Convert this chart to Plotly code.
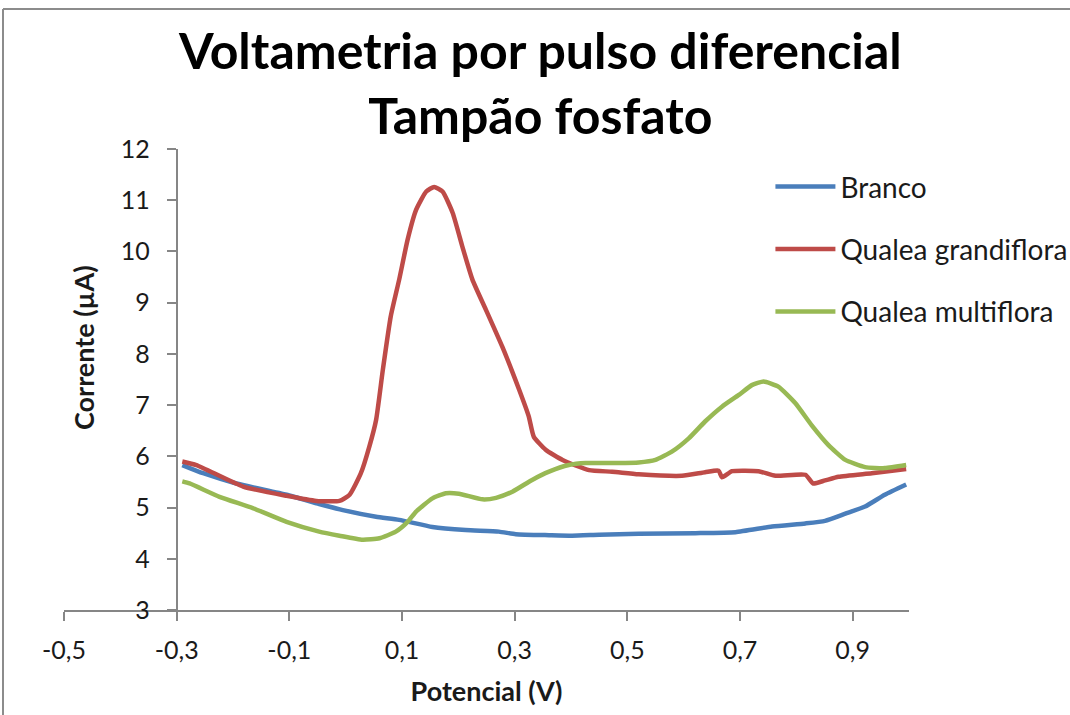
import plotly.graph_objects as go

# ---------------- data ----------------
branco_x = [-0.29, -0.253, -0.194, -0.105, -0.047, -0.005, 0.054, 0.095, 0.154, 0.213,
            0.272, 0.302, 0.361, 0.402, 0.45, 0.52, 0.621, 0.692, 0.757, 0.816,
            0.851, 0.887, 0.922, 0.957, 0.995]
branco_y = [5.83, 5.67, 5.47, 5.25, 5.07, 4.95, 4.82, 4.76, 4.62, 4.56,
            4.53, 4.48, 4.46, 4.45, 4.47, 4.49, 4.50, 4.52, 4.63, 4.69,
            4.74, 4.88, 5.02, 5.25, 5.45]

grandiflora_x = [-0.29, -0.265, -0.182, -0.105, -0.052, -0.011, 0.007, 0.027, 0.042, 0.054,
                 0.066, 0.080, 0.095, 0.110, 0.125, 0.143, 0.157, 0.172, 0.190, 0.207,
                 0.225, 0.249, 0.278, 0.308, 0.325, 0.334, 0.355, 0.385, 0.432, 0.473,
                 0.520, 0.597, 0.638, 0.662, 0.668, 0.686, 0.733, 0.763, 0.816, 0.830,
                 0.851, 0.875, 0.934, 0.995]
grandiflora_y = [5.90, 5.83, 5.41, 5.23, 5.13, 5.13, 5.25, 5.67, 6.19, 6.71,
                 7.69, 8.73, 9.45, 10.23, 10.81, 11.17, 11.26, 11.17, 10.75, 10.10,
                 9.45, 8.86, 8.14, 7.30, 6.78, 6.38, 6.13, 5.93, 5.73, 5.70,
                 5.65, 5.62, 5.69, 5.72, 5.59, 5.71, 5.71, 5.62, 5.64, 5.47,
                 5.53, 5.60, 5.67, 5.75]

multiflora_x = [-0.29, -0.277, -0.224, -0.165, -0.105, -0.047, -0.011, 0.030, 0.060, 0.089,
                0.110, 0.125, 0.154, 0.178, 0.201, 0.243, 0.267, 0.296, 0.331, 0.361,
                0.396, 0.426, 0.479, 0.520, 0.550, 0.579, 0.609, 0.638, 0.668, 0.698,
                0.721, 0.742, 0.768, 0.798, 0.827, 0.857, 0.887, 0.922, 0.957, 0.995]
multiflora_y = [5.51, 5.47, 5.21, 4.99, 4.72, 4.53, 4.45, 4.37, 4.40, 4.53,
                4.72, 4.92, 5.18, 5.28, 5.27, 5.16, 5.19, 5.31, 5.54, 5.70,
                5.83, 5.87, 5.87, 5.88, 5.93, 6.09, 6.35, 6.68, 6.97, 7.20,
                7.39, 7.46, 7.36, 7.04, 6.61, 6.22, 5.93, 5.79, 5.77, 5.83]

series_names = ["Branco", "Qualea grandiflora", "Qualea multiflora"]
series_colors = ["#4A7EBB", "#BE4B48", "#98B954"]

x_tick_vals = [-0.5, -0.3, -0.1, 0.1, 0.3, 0.5, 0.7, 0.9]
x_tick_text = ["-0,5", "-0,3", "-0,1", "0,1", "0,3", "0,5", "0,7", "0,9"]
y_tick_vals = [3, 4, 5, 6, 7, 8, 9, 10, 11, 12]

title_text = "Voltametria por pulso diferencial<br>Tampão fosfato"
x_title = "Potencial (V)"
y_title = "Corrente (µA)"

# ---------------- figure ----------------
FONT = "Lato"
AXIS_COLOR = "#868686"
TEXT_COLOR = "#1a1a1a"

fig = go.Figure()
for i, (xs, ys) in enumerate([(branco_x, branco_y), (grandiflora_x, grandiflora_y),
                              (multiflora_x, multiflora_y)]):
    fig.add_trace(go.Scatter(
        x=xs, y=ys, mode="lines", name=series_names[i],
        legendgroup=series_names[i],
        line=dict(color=series_colors[i], width=4.5, shape="spline", smoothing=0.5),
    ))

y_axis_pos = (-0.3 - (-0.5)) / (1.0 - (-0.5))

fig.update_layout(
    width=1070, height=715,
    margin=dict(l=64, r=161, t=149, b=105, autoexpand=False),
    paper_bgcolor="white", plot_bgcolor="white",
    font=dict(family=FONT, color=TEXT_COLOR),
    title=dict(text=title_text, x=0.505, xref="container", xanchor="center",
               y=0.904, yref="container", yanchor="middle",
               font=dict(family=FONT, size=50, color="black", weight="bold")),
    showlegend=True,
    legend=dict(x=0.836, xanchor="left", y=0.972, yanchor="top",
                font=dict(family=FONT, size=28, color=TEXT_COLOR),
                tracegroupgap=23, itemwidth=60, bgcolor="rgba(0,0,0,0)"),
    xaxis=dict(range=[-0.5, 1.0], tickvals=x_tick_vals, ticktext=x_tick_text,
               showgrid=False, zeroline=False, showline=True, linecolor=AXIS_COLOR,
               linewidth=2, ticks="outside", ticklen=9, tickwidth=2, tickcolor=AXIS_COLOR,
               tickfont=dict(family=FONT, size=25, color=TEXT_COLOR),
               ticklabelstandoff=8,
               title=dict(text=x_title, standoff=19,
                          font=dict(family=FONT, size=27, color=TEXT_COLOR, weight="bold"))),
    yaxis=dict(range=[3, 12], tickvals=y_tick_vals,
               anchor="free", position=y_axis_pos,
               showgrid=False, zeroline=False, showline=True, linecolor=AXIS_COLOR,
               linewidth=2, ticks="outside", ticklen=9, tickwidth=2, tickcolor=AXIS_COLOR,
               tickfont=dict(family=FONT, size=25, color=TEXT_COLOR),
               ticklabelstandoff=12),
)

# y-axis title as annotation (positioned like the original)
fig.add_annotation(text=y_title, xref="paper", yref="paper",
                   x=(83 - 64) / 845, y=(610 - 348) / 461, showarrow=False,
                   textangle=-90, xanchor="center", yanchor="middle",
                   font=dict(family=FONT, size=27, color=TEXT_COLOR, weight="bold"))

# chart frame (top and left border of the original image)
fig.add_shape(type="line", xref="paper", yref="paper",
              x0=(3 - 64) / 845, x1=(1070 - 64) / 845,
              y0=(610 - 9) / 461, y1=(610 - 9) / 461,
              line=dict(color="#8c8c8c", width=2))
fig.add_shape(type="line", xref="paper", yref="paper",
              x0=(3 - 64) / 845, x1=(3 - 64) / 845,
              y0=(610 - 9) / 461, y1=(610 - 715) / 461,
              line=dict(color="#8c8c8c", width=2))

fig.write_html("out.html", config={"displayModeBar": False},
               post_script="document.body.style.margin='0';")
